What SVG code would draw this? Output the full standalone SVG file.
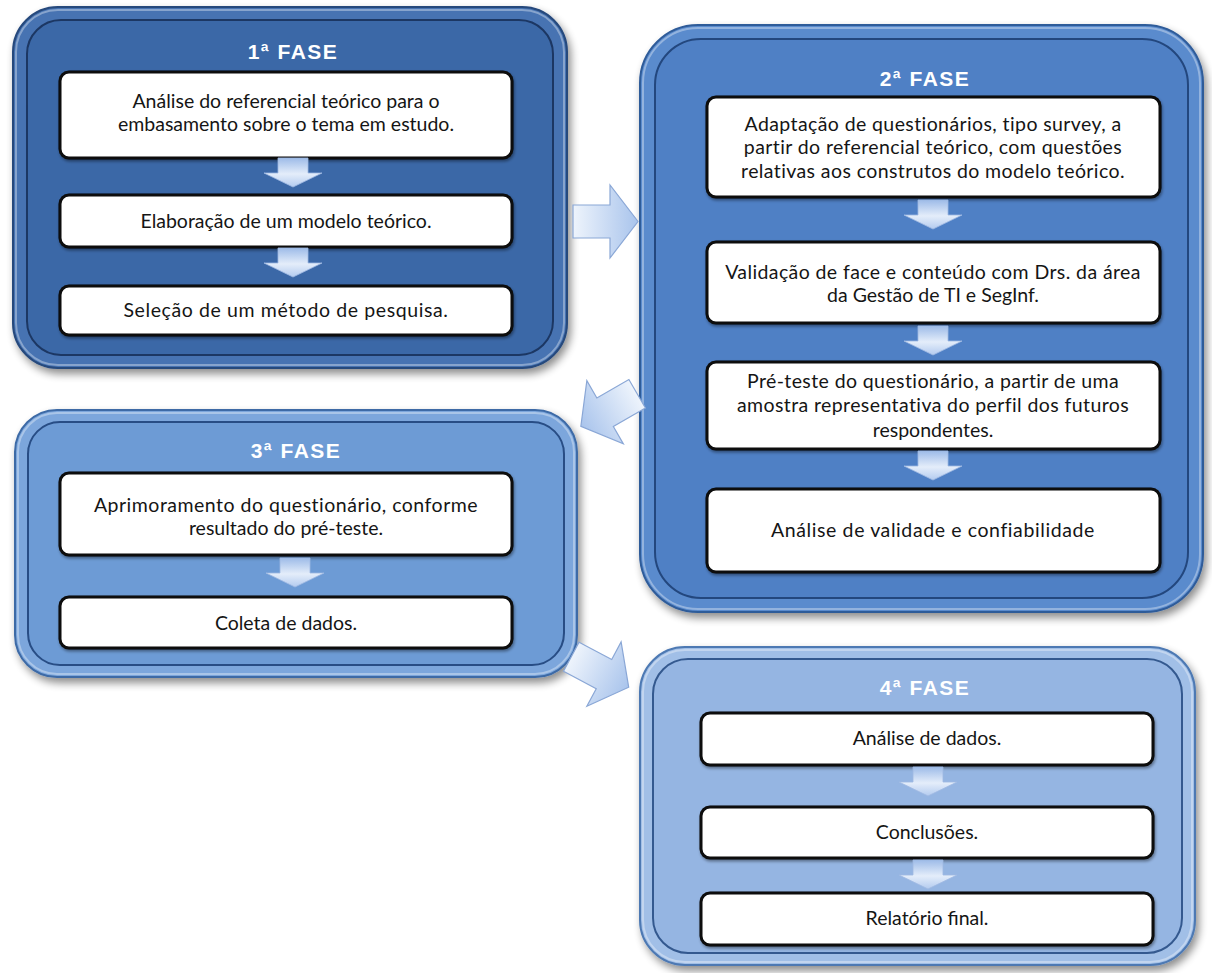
<svg xmlns="http://www.w3.org/2000/svg" width="1212" height="973" viewBox="0 0 1212 973">
<style>
.title{font-family:"Liberation Sans",Arial,sans-serif;font-weight:bold;font-size:21px;fill:#fff;text-anchor:middle;letter-spacing:1.5px}
.t{font-family:Lato,"Liberation Sans",sans-serif;font-size:19.5px;fill:#151515;text-anchor:middle}
.box{fill:#fff;stroke:#0a0a0a;stroke-width:3;filter:url(#bsh)}
.conn{fill:url(#cg);stroke:#8aa7d6;stroke-width:1.2}
.down{fill:url(#dg);stroke:#9fb9e2;stroke-width:0.8}
.hl{fill:none;stroke:#fff;stroke-opacity:0.35;stroke-width:2}
</style>
<defs>
<filter id="sh" x="-10%" y="-10%" width="125%" height="125%"><feGaussianBlur in="SourceAlpha" stdDeviation="4"/><feOffset dx="3" dy="5"/><feComponentTransfer><feFuncA type="linear" slope="0.45"/></feComponentTransfer><feMerge><feMergeNode/><feMergeNode in="SourceGraphic"/></feMerge></filter>
<filter id="bsh" x="-5%" y="-20%" width="110%" height="150%"><feGaussianBlur in="SourceAlpha" stdDeviation="1.5"/><feOffset dx="1" dy="2"/><feComponentTransfer><feFuncA type="linear" slope="0.4"/></feComponentTransfer><feMerge><feMergeNode/><feMergeNode in="SourceGraphic"/></feMerge></filter>
<linearGradient id="cg" x1="0" y1="0" x2="1" y2="0"><stop offset="0" stop-color="#eef4fc"/><stop offset="1" stop-color="#a9c4ec"/></linearGradient>
<linearGradient id="dg" x1="0" y1="0" x2="0" y2="1"><stop offset="0" stop-color="#9dbbe8"/><stop offset="0.55" stop-color="#e4edfa"/><stop offset="1" stop-color="#b3cbef"/></linearGradient>
<path id="da" d="M-15,0 H15 V15 H29 L0,29 L-29,15 H-15 Z"/>
<path id="ca" d="M-32.5,-16.5 H4.5 V-36.5 L32.5,0 L4.5,36.5 V16.5 H-32.5 Z"/>
</defs>

<g id="fase1">
<rect x="13" y="7" width="554" height="361" rx="45" fill="#4673b2" stroke="#25487c" stroke-width="2" filter="url(#sh)"/>
<rect x="16" y="10" width="548" height="355" rx="42" class="hl"/>
<rect x="27" y="20" width="526" height="335" rx="34" fill="#3b68a7" stroke="#1c3763" stroke-width="2"/>
<text x="293" y="59" class="title">1ª FASE</text>
<rect x="60" y="72" width="452" height="86" rx="9" class="box"/>
<text x="286" y="108" class="t">Análise do referencial teórico para o</text>
<text x="286" y="131" class="t">embasamento sobre o tema em estudo.</text>
<use href="#da" x="293" y="158" class="down"/>
<rect x="60" y="195" width="452" height="52" rx="9" class="box"/>
<text x="286" y="228" class="t">Elaboração de um modelo teórico.</text>
<use href="#da" x="293" y="248" class="down"/>
<rect x="60" y="286" width="452" height="49" rx="9" class="box"/>
<text x="286" y="317" class="t" letter-spacing="0.6">Seleção de um método de pesquisa.</text>
</g>

<g id="fase2">
<rect x="640" y="25" width="563" height="587" rx="58" fill="#5a8bcd" stroke="#2f5b99" stroke-width="2" filter="url(#sh)"/>
<rect x="643" y="28" width="557" height="581" rx="55" class="hl"/>
<rect x="655" y="39" width="533" height="559" rx="46" fill="#4f80c5" stroke="#23477e" stroke-width="2"/>
<text x="925" y="86" class="title">2ª FASE</text>
<rect x="707" y="97" width="453" height="100" rx="9" class="box"/>
<text x="933" y="131" class="t" letter-spacing="0.4">Adaptação de questionários, tipo survey, a</text>
<text x="933" y="154" class="t" letter-spacing="0.4">partir do referencial teórico, com questões</text>
<text x="933" y="178" class="t" letter-spacing="0.4">relativas aos construtos do modelo teórico.</text>
<use href="#da" x="933" y="200" class="down"/>
<rect x="707" y="242" width="453" height="81" rx="9" class="box"/>
<text x="933" y="279" class="t" letter-spacing="0.4">Validação de face e conteúdo com Drs. da área</text>
<text x="933" y="302" class="t">da Gestão de TI e SegInf.</text>
<use href="#da" x="933" y="326" class="down"/>
<rect x="707" y="362" width="453" height="87" rx="9" class="box"/>
<text x="933" y="388" class="t" letter-spacing="0.4">Pré-teste do questionário, a partir de uma</text>
<text x="933" y="412" class="t" letter-spacing="0.4">amostra representativa do perfil dos futuros</text>
<text x="933" y="437" class="t">respondentes.</text>
<use href="#da" x="933" y="451" class="down"/>
<rect x="707" y="489" width="453" height="83" rx="9" class="box"/>
<text x="933" y="537" class="t" letter-spacing="0.6">Análise de validade e confiabilidade</text>
</g>

<g id="fase3">
<rect x="15" y="410" width="562" height="267" rx="42" fill="#7ba6dc" stroke="#3d6aa6" stroke-width="2" filter="url(#sh)"/>
<rect x="18" y="413" width="556" height="261" rx="39" class="hl"/>
<rect x="28" y="422" width="536" height="243" rx="32" fill="#6d9bd5" stroke="#284d85" stroke-width="2"/>
<text x="296" y="458" class="title">3ª FASE</text>
<rect x="60" y="473" width="452" height="82" rx="9" class="box"/>
<text x="286" y="512" class="t" letter-spacing="0.5">Aprimoramento do questionário, conforme</text>
<text x="286" y="535" class="t">resultado do pré-teste.</text>
<use href="#da" x="295" y="558" class="down"/>
<rect x="60" y="597" width="452" height="51" rx="9" class="box"/>
<text x="286" y="630" class="t">Coleta de dados.</text>
</g>

<g id="fase4">
<rect x="640" y="647" width="555" height="318" rx="45" fill="#a1bfe7" stroke="#4d79b3" stroke-width="2" filter="url(#sh)"/>
<rect x="643" y="650" width="549" height="312" rx="42" class="hl"/>
<rect x="653" y="659" width="529" height="294" rx="35" fill="#95b5e2" stroke="#34598f" stroke-width="2"/>
<text x="925" y="695" class="title">4ª FASE</text>
<rect x="701" y="713" width="452" height="52" rx="9" class="box"/>
<text x="927" y="745" class="t">Análise de dados.</text>
<use href="#da" x="928" y="767" class="down"/>
<rect x="701" y="807" width="452" height="51" rx="9" class="box"/>
<text x="927" y="839" class="t">Conclusões.</text>
<use href="#da" x="928" y="860" class="down"/>
<rect x="701" y="893" width="452" height="52" rx="9" class="box"/>
<text x="927" y="925" class="t">Relatório final.</text>
</g>

<g id="connectors">
<use href="#ca" transform="translate(605.5,221.5)" class="conn"/>
<use href="#ca" transform="translate(609,410) rotate(150)" class="conn"/>
<use href="#ca" transform="translate(600,672) rotate(28)" class="conn"/>
</g>
</svg>
